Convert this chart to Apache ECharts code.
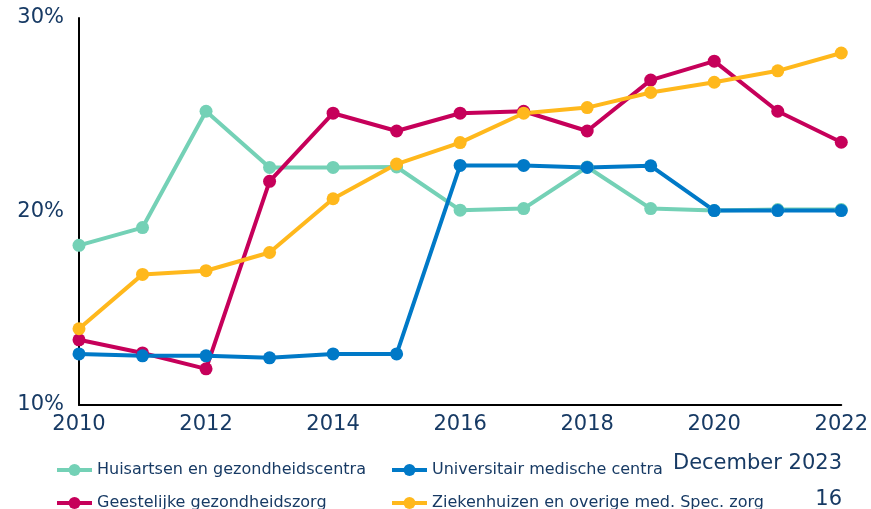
<!DOCTYPE html>
<html>
<head>
<meta charset="utf-8">
<script src="https://cdn.jsdelivr.net/npm/echarts@6/dist/echarts.min.js"></script>
<style>
    html, body { margin: 0; padding: 0; background: #fff; }
    #chart { width: 871px; height: 509px; }
</style>
</head>
<body>
<div id="chart"></div>
<script>
// jaren op de x-as
const years = ['2010', '2011', '2012', '2013', '2014', '2015', '2016', '2017', '2018', '2019', '2020', '2021', '2022']

// aandelen in procenten
const huisartsen = [18.25, 19.17, 25.18, 22.28, 22.28, 22.3, 20.07, 20.15, 22.3, 20.15, 20.05, 20.1, 20.1]
const geestelijke = [13.37, 12.69, 11.87, 21.56, 25.08, 24.16, 25.08, 25.18, 24.16, 26.79, 27.77, 25.18, 23.58]
const universitair = [12.64, 12.54, 12.54, 12.44, 12.64, 12.64, 22.38, 22.38, 22.28, 22.36, 20.05, 20.05, 20.05]
const ziekenhuizen = [13.94, 16.75, 16.94, 17.88, 20.66, 22.45, 23.56, 25.08, 25.37, 26.15, 26.68, 27.27, 28.19]

const names = [
    'Huisartsen en gezondheidscentra',
    'Universitair medische centra',
    'Geestelijke gezondheidszorg',
    'Ziekenhuizen en overige med. Spec. zorg'
]

const navy = '#173a64'
const font = 'DejaVu Sans'

let chart = echarts.init(document.getElementById('chart'))

function lineSeries(name, data, color){
    return {
        name: name,
        type: 'line',
        data: data,
        symbol: 'circle',
        symbolSize: 13,
        color: color,
        lineStyle: { color: color, width: 4 },
        itemStyle: { color: color },
        animation: false
    }
}

// één legenda per item, zodat de kolommen netjes uitlijnen
function legendItem(name, left, top){
    return {
        left: left,
        top: top,
        itemWidth: 35,
        itemHeight: 15,
        itemGap: 0,
        lineStyle: { width: 4 },
        textStyle: { color: navy, fontSize: 16, fontFamily: font },
        data: [name]
    }
}

let option = {
    backgroundColor: '#fff',
    textStyle: { fontFamily: font },
    grid: {
        left: 79,
        right: 28,
        top: 18,
        bottom: 104
    },
    legend: [
        legendItem(names[0], 50, 457),
        legendItem(names[1], 385, 457),
        legendItem(names[2], 50, 490),
        legendItem(names[3], 385, 490)
    ],
    graphic: [
        {
            type: 'text',
            right: 29,
            top: 453,
            style: { text: 'December 2023', fill: navy, font: '21px "DejaVu Sans"' }
        },
        {
            type: 'text',
            right: 29,
            top: 489,
            style: { text: '16', fill: navy, font: '21px "DejaVu Sans"' }
        }
    ],
    xAxis: {
        type: 'category',
        boundaryGap: false,
        data: years,
        axisLine: { lineStyle: { color: '#000', width: 2 } },
        axisTick: { show: false },
        axisLabel: {
            interval: 1,
            color: navy,
            fontSize: 21,
            fontFamily: font,
            margin: 9
        },
        splitLine: { show: false }
    },
    yAxis: {
        type: 'value',
        min: 10,
        max: 30,
        interval: 10,
        axisLine: { show: true, lineStyle: { color: '#000', width: 2 } },
        axisTick: { show: false },
        axisLabel: {
            formatter: '{value}%',
            color: navy,
            fontSize: 21,
            fontFamily: font,
            margin: 15,
            padding: [6, 0, 0, 0]
        },
        splitLine: { show: false }
    },
    series: [
        lineSeries(names[0], huisartsen, '#74d1b6'),
        lineSeries(names[2], geestelijke, '#c6005a'),
        lineSeries(names[1], universitair, '#0079c7'),
        lineSeries(names[3], ziekenhuizen, '#ffb81c')
    ]
}

chart.setOption(option)
</script>
</body>
</html>
